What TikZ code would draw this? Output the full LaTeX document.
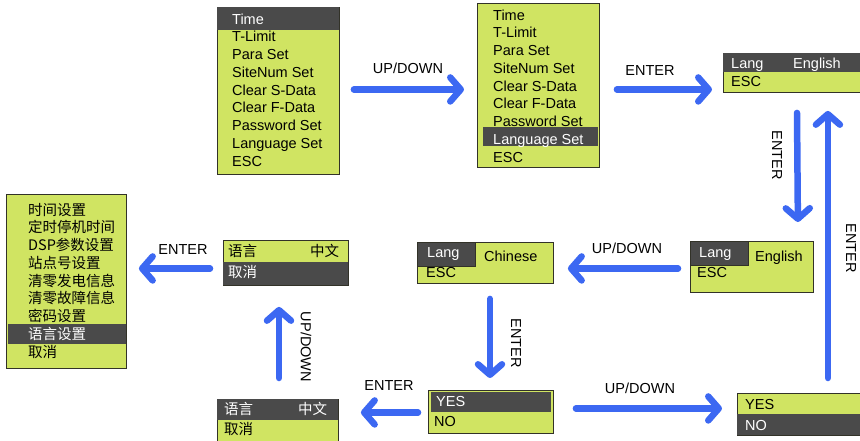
\documentclass[tikz,border=0pt]{standalone}
\usepackage{fontspec}
\setmainfont{Liberation Sans}
\newfontfamily\cjk{Noto Sans CJK SC}
\usetikzlibrary{arrows.meta,calc}
\definecolor{lcdgreen}{RGB}{208,228,98}
\definecolor{lcddark}{RGB}{74,74,74}
\definecolor{lcdedge}{RGB}{50,50,40}
\definecolor{flowblue}{RGB}{60,104,242}
\newcommand{\lcdfont}{\fontsize{14.5}{16}\selectfont}
\newcommand{\rowH}{17.75}
\tikzset{
  scrbox/.style ={draw=lcdedge,fill=lcdgreen,line width=0.9pt,inner sep=0pt,anchor=north west},
  selbar/.style ={fill=lcddark},
  selbox/.style ={draw=lcdedge,fill=lcddark,line width=0.9pt},
  itm/.style    ={anchor=base west,inner sep=0pt,font=\lcdfont},
  witm/.style   ={itm,text=white},
  citm/.style   ={itm,font=\lcdfont\cjk},
  cwitm/.style  ={citm,text=white},
  flowarr/.style={draw=flowblue,line width=6.5pt,line cap=round,-{Straight Barb[length=10.5pt,width=24pt,round]}},
  flowlab/.style={inner sep=1pt,font=\lcdfont},
}

\begin{document}
\begin{tikzpicture}[x=1pt,y=-1pt]
  \useasboundingbox (0,0) rectangle (860,440);
  % main menu, cursor on Time
  \node[scrbox,minimum width=122pt,minimum height=167pt] (mA) at (217,7) {};
  \fill[selbar] (217,7) rectangle (339,30);
  \foreach \s/\t [count=\i] in {witm/Time,itm/T-Limit,itm/Para Set,itm/SiteNum Set,itm/Clear S-Data,itm/Clear F-Data,itm/Password Set,itm/Language Set,itm/ESC}
    \node[\s] (mA\i) at (232,{24+\rowH*(\i-1)}) {\t};
  % main menu, cursor on Language Set
  \node[scrbox,minimum width=122pt,minimum height=164pt] (mB) at (477,3) {};
  \fill[selbar] (483,127) rectangle (598,146);
  \foreach \s/\t [count=\i] in {itm/Time,itm/T-Limit,itm/Para Set,itm/SiteNum Set,itm/Clear S-Data,itm/Clear F-Data,itm/Password Set,witm/Language Set,itm/ESC}
    \node[\s] (mB\i) at (493,{20+\rowH*(\i-1)}) {\t};
  % language screen
  \node[scrbox,minimum width=143pt,minimum height=39pt] (mC) at (723,53) {};
  \fill[selbar] (723,53) rectangle (866,72);
  \node[witm] (mC1) at (731,68) {Lang};
  \node[witm] (mC2) at (793,68) {English};
  \node[itm] (mC3) at (731,86) {ESC};
  % Lang selected, English
  \node[scrbox,minimum width=123pt,minimum height=51pt] (mG) at (690,241) {};
  \draw[selbox] (690,241) rectangle (748,265);
  \node[witm] (mG1) at (699,257) {Lang};
  \node[itm] (mG2) at (755,261) {English};
  \node[itm] (mG3) at (697,277) {ESC};
  % Lang selected, Chinese
  \node[scrbox,minimum width=136pt,minimum height=41pt] (mF) at (417,242) {};
  \draw[selbox] (417,242) rectangle (475,266);
  \node[witm] (mF1) at (427,257) {Lang};
  \node[itm] (mF2) at (484,261) {Chinese};
  \node[itm] (mF3) at (426,277) {ESC};
  % confirm, YES
  \node[scrbox,minimum width=125pt,minimum height=43pt] (mI) at (428,390) {};
  \fill[selbar] (431,392) rectangle (551,412);
  \node[witm] (mI1) at (436,406) {YES};
  \node[itm] (mI2) at (434,426) {NO};
  % confirm, NO
  \node[scrbox,minimum width=129pt,minimum height=42pt] (mJ) at (737,393) {};
  \fill[selbar] (737,414) rectangle (866,435);
  \node[itm] (mJ1) at (745,409) {YES};
  \node[witm] (mJ2) at (745,430) {NO};
  % chinese language screen, cursor on 语言
  \node[scrbox,minimum width=121pt,minimum height=47pt] (mH) at (217,399) {};
  \fill[selbar] (217,399) rectangle (338,420);
  \node[cwitm] (mH1) at (224,414) {语言};
  \node[cwitm] (mH2) at (298,414) {中文};
  \node[citm] (mH3) at (224,434) {取消};
  % chinese language screen, cursor on 取消
  \node[scrbox,minimum width=125pt,minimum height=45pt] (mE) at (223,240) {};
  \fill[selbar] (223,262) rectangle (348,285);
  \node[citm] (mE1) at (228,256) {语言};
  \node[citm] (mE2) at (310,256) {中文};
  \node[cwitm] (mE3) at (228,277) {取消};
  % chinese main menu
  \node[scrbox,minimum width=120pt,minimum height=174pt] (mD) at (6,194) {};
  \fill[selbar] (8,324) rectangle (126,344);
  \foreach \s/\t [count=\i] in {citm/时间设置,citm/定时停机时间,citm/DSP参数设置,citm/站点号设置,citm/清零发电信息,citm/清零故障信息,citm/密码设置,cwitm/语言设置,citm/取消}
    \node[\s] (mD\i) at (28,{215+\rowH*(\i-1)}) {\t};

  % flow
  \draw[flowarr] ($(mA.east)+(14,-1.5)$) -- ($(mB.west)+(-13,4)$);
  \draw[flowarr] ($(mB.east)+(17,4)$) -- ($(mC.west)+(-11,16.5)$);
  \draw[flowarr] ($(mC.south west)+(74,20)$) -- ($(mG.north east)+(-16,-19)$);
  \draw[flowarr] ($(mG.west)+(-12,1.5)$) -- ($(mF.east)+(14,5.5)$);
  \draw[flowarr] ($(mF.south west)+(73,15)$) -- ($(mI.north west)+(62,-12)$);
  \draw[flowarr] ($(mI.east)+(22,-3.5)$) -- ($(mJ.west)+(-15,-6)$);
  \draw[flowarr] ($(mJ.north east)+(-39,-15)$) -- ($(mC.south east)+(-39,18)$);
  \draw[flowarr] ($(mI.west)+(-10,0.5)$) -- ($(mH.east)+(22,-10.5)$);
  \draw[flowarr] ($(mH.north west)+(62,-21)$) -- ($(mE.south west)+(56,21)$);
  \draw[flowarr] ($(mE.west)+(-13,5.5)$) -- ($(mD.east)+(12,-13)$);

  \node[flowlab] (l1) at (408,68) {UP/DOWN};
  \node[flowlab] (l2) at (650,71) {ENTER};
  \node[flowlab,rotate=-90] (l3) at (777,155) {ENTER};
  \node[flowlab] (l4) at (627,248) {UP/DOWN};
  \node[flowlab,rotate=-90] (l5) at (516,343) {ENTER};
  \node[flowlab] (l6) at (640,388) {UP/DOWN};
  \node[flowlab,rotate=-90] (l7) at (851,248) {ENTER};
  \node[flowlab] (l8) at (389,386) {ENTER};
  \node[flowlab,rotate=-90] (l9) at (306,347) {UP/DOWN};
  \node[flowlab] (l10) at (183,250) {ENTER};
\end{tikzpicture}
\end{document}
